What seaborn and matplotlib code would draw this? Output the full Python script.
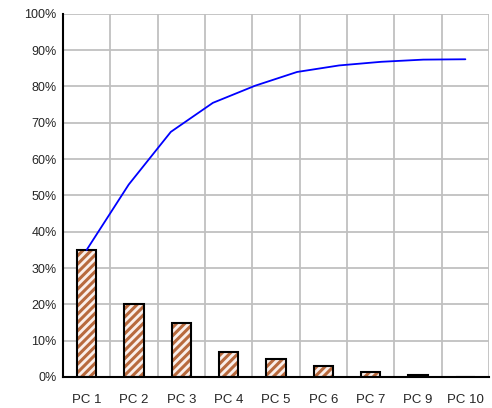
import matplotlib
matplotlib.use("Agg")
import matplotlib.pyplot as plt
import numpy as np
import pandas as pd
import seaborn as sns
from matplotlib.ticker import PercentFormatter

# bar categories and explained variance (%)
components = ["PC 1", "PC 2", "PC 3", "PC 4", "PC 5", "PC 6", "PC 7", "PC 9", "PC 10"]
variance = [35, 20, 15, 7, 5, 3, 1.5, 0.5, 0]

# cumulative curve (%)
cumulative = [35, 53, 67.5, 75.5, 80.2, 84, 85.8, 86.8, 87.4, 87.5]

sns.set_style("white")
plt.rcParams['font.family'] = ['Liberation Sans', 'DejaVu Sans']
plt.rcParams['hatch.linewidth'] = 2.2

fig = plt.figure(figsize=(4.92, 4.08), dpi=100)
ax = fig.add_axes([0.128, 0.076, 0.866, 0.890])

df = pd.DataFrame({'comp': components, 'var': variance})

# hatched fill
sns.barplot(data=df, x='comp', y='var', order=components, width=0.41,
            color='#fdeee8', ax=ax)
for p in ax.patches:
    p.set_hatch('////')
    p.set_edgecolor('#b86a3e')
    p.set_linewidth(0)

# black outlines
sns.barplot(data=df, x='comp', y='var', order=components, width=0.41,
            fill=False, edgecolor='black', linewidth=1.5, ax=ax)

# cumulative line
line_x = np.linspace(0, len(components) - 1, len(cumulative))
sns.lineplot(x=line_x, y=cumulative, color='#0000ff', linewidth=1.3, ax=ax)

ax.set_xlim(-0.5, len(components) - 0.5)
ax.set_ylim(0, 100)
ax.set_yticks(np.arange(0, 101, 10))
ax.yaxis.set_major_formatter(PercentFormatter(decimals=0))

# gridlines at category boundaries
ax.set_xticks(np.arange(-0.5, len(components), 1), minor=False)
ax.set_xticklabels([])
ax.set_xticks(np.arange(len(components)), minor=True)
ax.set_xticklabels(components, minor=True)
ax.tick_params(axis='x', which='minor', length=0, pad=12, labelsize=9.5)
ax.tick_params(axis='x', which='major', direction='inout', length=7, width=1.2, color='black')
ax.tick_params(axis='y', direction='inout', length=7, width=1.2, color='black', labelsize=9, pad=1)

ax.grid(True, which='major', color='#c0c0c0', linewidth=1.3)
ax.set_axisbelow(True)
for s in ['top', 'right']:
    ax.spines[s].set_visible(False)
for s in ['left', 'bottom']:
    ax.spines[s].set_color('black')
    ax.spines[s].set_linewidth(1.5)
    ax.spines[s].set_zorder(5)
ax.set_xlabel('')
ax.set_ylabel('')

fig.savefig('out.png', dpi=100)
